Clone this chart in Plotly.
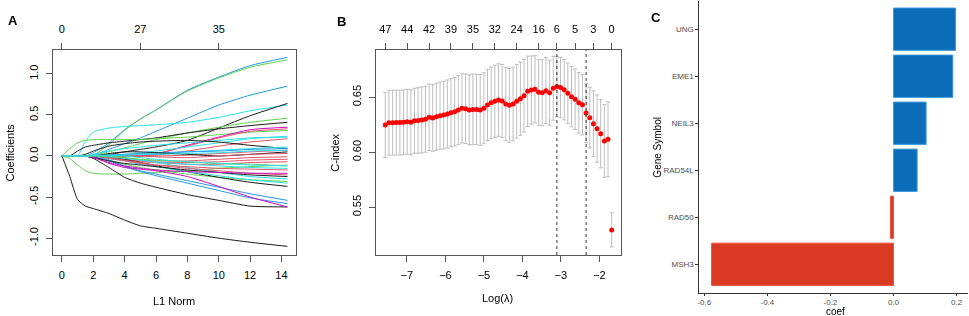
import plotly.graph_objects as go

# ---------------- Panel A: LASSO coefficient paths ----------------
L1_NORM = [0, 0.5, 1, 1.5, 2, 3, 4, 5, 6, 8, 10, 12, 14.38]
TOP_A_POS = [0, 5, 10]
TOP_A_LABELS = ["0", "27", "35"]

K, R, G, B, C, M = "#1a1a1a", "#DF536B", "#61D04F", "#2297E6", "#28E2E5", "#CD0BBC"

PATH_COLORS = [K, B, G, B, C, K, G, K, G, M, R, C, C, R, K, C, B, R, K,
               R, R, R, R, G, G, K, B, B, M, K, C, C, K, R, M, C, R, G, C, C]
PATH_VALUES = [
    [0, -0.25, -0.53, -0.61, -0.64, -0.70, -0.78, -0.85, -0.88, -0.94, -1.00, -1.05, -1.10],
    [0, 0, 0, 0, 0.04, 0.16, 0.32, 0.45, 0.56, 0.80, 0.96, 1.10, 1.20],
    [0, 0, 0, 0, 0.01, 0.14, 0.31, 0.45, 0.56, 0.79, 0.95, 1.08, 1.17],
    [0, 0, 0, 0, 0.01, 0.08, 0.15, 0.22, 0.30, 0.46, 0.62, 0.74, 0.85],
    [0, 0, 0, 0.18, 0.29, 0.34, 0.36, 0.37, 0.38, 0.41, 0.47, 0.55, 0.62],
    [0, 0, 0, 0, 0, 0.02, 0.05, 0.08, 0.11, 0.19, 0.34, 0.49, 0.64],
    [0, 0, 0, 0, 0.01, 0.05, 0.10, 0.15, 0.20, 0.28, 0.35, 0.41, 0.46],
    [0, 0, 0.06, 0.11, 0.13, 0.16, 0.18, 0.20, 0.22, 0.28, 0.33, 0.37, 0.41],
    [0, 0.09, 0.16, 0.19, 0.20, 0.20, 0.20, 0.20, 0.21, 0.23, 0.26, 0.29, 0.31],
    [0, 0, 0, 0, 0, 0, 0, 0, 0.02, 0.13, 0.23, 0.32, 0.35],
    [0, 0, 0, 0, 0, 0, 0, 0.01, 0.03, 0.12, 0.22, 0.30, 0.33],
    [0, 0, 0, 0, 0, 0.01, 0.02, 0.04, 0.06, 0.11, 0.16, 0.21, 0.24],
    [0, 0, 0, 0, 0.02, 0.06, 0.09, 0.11, 0.13, 0.16, 0.19, 0.22, 0.23],
    [0, 0, 0, 0, 0, 0, 0, 0, 0.01, 0.06, 0.12, 0.17, 0.21],
    [0, 0, 0, 0.02, 0.06, 0.12, 0.15, 0.17, 0.18, 0.19, 0.17, 0.13, 0.09],
    [0, 0, 0, 0, 0, 0, 0.01, 0.02, 0.03, 0.05, 0.07, 0.09, 0.11],
    [0, 0, 0, 0, 0, 0.01, 0.02, 0.03, 0.04, 0.05, 0.06, 0.08, 0.09],
    [0, 0, 0, 0, 0, 0, 0, 0, 0, 0.01, 0.03, 0.05, 0.07],
    [0, 0, 0, 0, 0, 0.03, 0.05, 0.05, 0.04, 0.02, 0.00, 0.02, 0.05],
    [0, 0, 0, 0, 0, 0, 0, 0, -0.01, -0.02, 0.00, 0.02, 0.03],
    [0, 0, 0, 0, 0, -0.02, -0.04, -0.05, -0.06, -0.06, -0.04, -0.02, -0.01],
    [0, 0, 0, 0, 0, -0.03, -0.05, -0.07, -0.08, -0.08, -0.07, -0.05, -0.04],
    [0, 0, 0, 0, 0, -0.02, -0.05, -0.06, -0.08, -0.10, -0.10, -0.08, -0.07],
    [0, -0.03, -0.11, -0.18, -0.21, -0.22, -0.22, -0.21, -0.20, -0.18, -0.15, -0.13, -0.11],
    [0, 0, 0, 0, -0.01, -0.05, -0.10, -0.14, -0.17, -0.22, -0.26, -0.29, -0.31],
    [0, 0, 0, 0, -0.03, -0.14, -0.26, -0.33, -0.38, -0.47, -0.54, -0.61, -0.62],
    [0, 0, 0, 0, -0.01, -0.05, -0.12, -0.18, -0.22, -0.30, -0.38, -0.46, -0.54],
    [0, 0, 0, 0, -0.01, -0.06, -0.13, -0.19, -0.24, -0.33, -0.42, -0.51, -0.58],
    [0, 0, 0, 0, -0.01, -0.09, -0.14, -0.16, -0.18, -0.25, -0.37, -0.50, -0.62],
    [0, 0, 0, 0, 0, -0.01, -0.04, -0.08, -0.12, -0.19, -0.26, -0.32, -0.37],
    [0, 0, 0, 0, 0, -0.03, -0.06, -0.10, -0.13, -0.19, -0.24, -0.29, -0.33],
    [0, 0, 0, 0, 0, 0, -0.02, -0.05, -0.08, -0.14, -0.20, -0.25, -0.28],
    [0, 0, 0, 0, -0.02, -0.06, -0.09, -0.11, -0.13, -0.17, -0.20, -0.23, -0.25],
    [0, 0, 0, 0, 0, -0.02, -0.05, -0.08, -0.11, -0.15, -0.18, -0.21, -0.23],
    [0, 0, 0, 0, -0.02, -0.08, -0.12, -0.15, -0.17, -0.19, -0.20, -0.21, -0.21],
    [0, 0, 0, 0, 0, -0.01, -0.03, -0.05, -0.07, -0.10, -0.12, -0.14, -0.15],
    [0, 0, 0, 0, 0, -0.03, -0.06, -0.09, -0.11, -0.13, -0.15, -0.16, -0.17],
    [0, 0, 0, 0, 0, -0.01, -0.02, -0.04, -0.05, -0.07, -0.09, -0.10, -0.12],
    [0, 0, 0, 0, 0.01, 0.01, 0.00, -0.02, -0.04, -0.07, -0.09, -0.11, -0.12],
    [0, 0, 0, 0, 0, 0, 0.01, 0.02, 0.02, 0.03, 0.04, 0.06, 0.07],
]

# ---------------- Panel B: cross-validated C-index ----------------
LOG_LAMBDA = [-7.561, -7.466, -7.371, -7.277, -7.182, -7.087, -6.992, -6.897, -6.803, -6.708,
              -6.613, -6.518, -6.423, -6.329, -6.234, -6.139, -6.044, -5.949, -5.855, -5.760,
              -5.665, -5.570, -5.475, -5.381, -5.286, -5.191, -5.096, -5.001, -4.907, -4.812,
              -4.717, -4.622, -4.527, -4.433, -4.338, -4.243, -4.148, -4.053, -3.959, -3.864,
              -3.769, -3.674, -3.579, -3.485, -3.390, -3.295, -3.200, -3.105, -3.011, -2.916,
              -2.821, -2.726, -2.631, -2.537, -2.442, -2.347, -2.252, -2.157, -2.063, -1.968,
              -1.873, -1.778, -1.683]
C_INDEX = [0.6248, 0.6269, 0.6269, 0.6270, 0.6270, 0.6272, 0.6278, 0.6272, 0.6287, 0.6290,
           0.6294, 0.6300, 0.6318, 0.6312, 0.6324, 0.6333, 0.6339, 0.6348, 0.6360, 0.6369,
           0.6385, 0.6400, 0.6395, 0.6385, 0.6390, 0.6390, 0.6385, 0.6400, 0.6430, 0.6450,
           0.6464, 0.6475, 0.6466, 0.6439, 0.6427, 0.6439, 0.6464, 0.6487, 0.6515, 0.6555,
           0.6566, 0.6573, 0.6545, 0.6542, 0.6560, 0.6542, 0.6582, 0.6597, 0.6588, 0.6569,
           0.6536, 0.6506, 0.6482, 0.6450, 0.6433, 0.6357, 0.6315, 0.6260, 0.6215, 0.6169,
           0.6103, 0.6118, 0.5294]
C_INDEX_SE = [0.0295, 0.0295, 0.0295, 0.0295, 0.0295, 0.0295, 0.0295, 0.0295, 0.0295, 0.0298,
              0.0300, 0.0300, 0.0302, 0.0303, 0.0305, 0.0306, 0.0308, 0.0310, 0.0310, 0.0312,
              0.0313, 0.0315, 0.0316, 0.0318, 0.0320, 0.0320, 0.0322, 0.0323, 0.0325, 0.0326,
              0.0328, 0.0330, 0.0332, 0.0335, 0.0335, 0.0335, 0.0335, 0.0333, 0.0330, 0.0320,
              0.0310, 0.0305, 0.0300, 0.0300, 0.0300, 0.0295, 0.0290, 0.0275, 0.0275, 0.0275,
              0.0275, 0.0275, 0.0275, 0.0275, 0.0275, 0.0270, 0.0276, 0.0300, 0.0306, 0.0310,
              0.0330, 0.0340, 0.0155]
NZERO_IDX = [0, 6, 12, 18, 24, 30, 36, 42, 47, 52, 57, 62]
NZERO_LABELS = ["47", "44", "42", "39", "35", "32", "24", "16", "6", "5", "3", "0"]

# ---------------- Panel C: selected gene coefficients ----------------
GENES = ["MSH3", "RAD50", "RAD54L", "NEIL3", "EME1", "UNG"]
COEFS = [-0.577, -0.0095, 0.075, 0.1035, 0.188, 0.197]

W, H = 969, 316
FONT = "Liberation Sans, Arial, sans-serif"
FRAME = "#555555"

fig = go.Figure()

for col, vals in zip(PATH_COLORS, PATH_VALUES):
    fig.add_trace(go.Scatter(x=L1_NORM, y=vals, mode="lines", xaxis="x", yaxis="y",
                             line=dict(color=col, width=1, shape="spline", smoothing=0.6),
                             hoverinfo="skip", showlegend=False))
# invisible carrier so the top (degrees-of-freedom) axis of panel A is drawn
fig.add_trace(go.Scatter(x=L1_NORM, y=PATH_VALUES[0], mode="lines", xaxis="x4", yaxis="y",
                         opacity=0, hoverinfo="skip", showlegend=False))

fig.add_trace(go.Scatter(x=LOG_LAMBDA, y=C_INDEX, mode="markers", xaxis="x2", yaxis="y2",
                         marker=dict(color="#FF0000", size=5),
                         error_y=dict(type="data", array=C_INDEX_SE, color="#BEBEBE",
                                      thickness=1, width=2),
                         showlegend=False))
# invisible carrier for the top (number of nonzero) axis of panel B
fig.add_trace(go.Scatter(x=LOG_LAMBDA, y=C_INDEX, mode="markers", xaxis="x5", yaxis="y2",
                         opacity=0, hoverinfo="skip", showlegend=False))

bar_fill = ["#0B6DB7" if v > 0 else "#DA3A22" for v in COEFS]
bar_line = ["#3A9BE0" if v > 0 else "#F0533C" for v in COEFS]
fig.add_trace(go.Bar(y=GENES, x=COEFS, orientation="h", xaxis="x3", yaxis="y3", width=0.9,
                     marker=dict(color=bar_fill, line=dict(color=bar_line, width=1)),
                     showlegend=False))

# lambda.min / lambda.1se
i_min = max(range(len(C_INDEX)), key=lambda i: C_INDEX[i])
thr = C_INDEX[i_min] - C_INDEX_SE[i_min]
i_1se = max(i for i in range(i_min, len(C_INDEX)) if C_INDEX[i] >= thr)
shapes = []
for i in (i_min, i_1se):
    shapes.append(dict(type="line", xref="x2", yref="y2 domain", x0=LOG_LAMBDA[i], x1=LOG_LAMBDA[i],
                       y0=0, y1=1, line=dict(color="#333333", width=1, dash="dot")))

ydom = [1 - 255 / H, 1 - 50 / H]
tickfont = dict(family=FONT, size=11, color="black")
base_ax = dict(showgrid=False, zeroline=False, ticks="outside", ticklen=6, tickcolor=FRAME,
               tickwidth=1, tickfont=tickfont)

fig.update_layout(
    width=W, height=H, margin=dict(l=0, r=0, t=0, b=0),
    paper_bgcolor="white", plot_bgcolor="white", showlegend=False,
    font=dict(family=FONT),
    xaxis=dict(base_ax, domain=[51 / W, 295 / W], range=[-0.575, 14.95], anchor="y",
               tickvals=[0, 2, 4, 6, 8, 10, 12, 14], showline=True, mirror=True,
               linecolor=FRAME, linewidth=1, ticklabelstandoff=4),
    yaxis=dict(base_ax, domain=ydom, range=[-1.205, 1.29], anchor="x",
               tickvals=[-1, -0.5, 0, 0.5, 1], ticktext=["-1.0", "-0.5", "0.0", "0.5", "1.0"],
               tickangle=-90, showline=True, mirror=True, linecolor=FRAME, linewidth=1,
               ticklabelstandoff=4),
    xaxis4=dict(base_ax, overlaying="x", side="top", anchor="y", range=[-0.575, 14.95],
                tickvals=TOP_A_POS, ticktext=TOP_A_LABELS, showline=False, ticklabelstandoff=6),
    xaxis2=dict(base_ax, domain=[375 / W, 620 / W], range=[-7.796, -1.448], anchor="y2",
                tickvals=[-7, -6, -5, -4, -3, -2], showline=True, mirror=True,
                linecolor=FRAME, linewidth=1, ticklabelstandoff=4),
    yaxis2=dict(base_ax, domain=ydom, range=[0.5066, 0.693], anchor="x2",
                tickvals=[0.55, 0.60, 0.65], ticktext=["0.55", "0.60", "0.65"], tickangle=-90,
                showline=True, mirror=True, linecolor=FRAME, linewidth=1, ticklabelstandoff=4),
    xaxis5=dict(base_ax, overlaying="x2", side="top", anchor="y2", range=[-7.796, -1.448],
                tickvals=[LOG_LAMBDA[i] for i in NZERO_IDX], ticktext=NZERO_LABELS,
                showline=False, ticklabelstandoff=6),
    xaxis3=dict(domain=[698.8 / W, 967.8 / W], range=[-0.6157, 0.2357], anchor="y3",
                tickvals=[-0.6, -0.4, -0.2, 0, 0.2], ticktext=["-0.6", "-0.4", "-0.2", "0.0", "0.2"],
                showgrid=False, zeroline=False, ticks="outside", ticklen=2, tickcolor="#333333",
                showline=True, linecolor="#333333", linewidth=1, ticklabelstandoff=0,
                tickfont=dict(family=FONT, size=8, color="#4D4D4D")),
    yaxis3=dict(domain=[1 - 292.5 / H, 1 - 1 / H], range=[-0.6, 5.6], anchor="x3",
                type="category", categoryorder="array", categoryarray=GENES,
                showgrid=False, zeroline=False, ticks="outside", ticklen=3, tickcolor="#333333",
                showline=True, linecolor="#333333", linewidth=1,
                tickfont=dict(family=FONT, size=8, color="#4D4D4D")),
    shapes=shapes,
)

def ann(text, px, py, size=11, angle=0, bold=False, color="black", pad=1):
    fig.add_annotation(text=f"<b>{text}</b>" if bold else text, x=px / W, y=1 - py / H,
                       xref="paper", yref="paper", showarrow=False, textangle=angle,
                       xanchor="center", yanchor="middle", borderpad=pad,
                       font=dict(family=FONT, size=size, color=color))

ann("A", 11, 20, size=13, bold=True)
ann("B", 340, 21, size=13, bold=True)
ann("C", 655, 18, size=13, bold=True)
ann("Coefficients", 8, 152.5, angle=-90)
ann("L1 Norm", 172, 301)
ann("C-index", 333, 152.5, angle=-90)
ann("Log(λ)", 497, 298)
ann("Gene Symbol", 656, 147, size=10, angle=-90)
ann("coef", 835, 311.5, size=10, pad=0)

fig.write_html("out.html", config={"displayModeBar": False},
               post_script="document.body.style.margin='0';document.body.style.overflow='hidden';")
